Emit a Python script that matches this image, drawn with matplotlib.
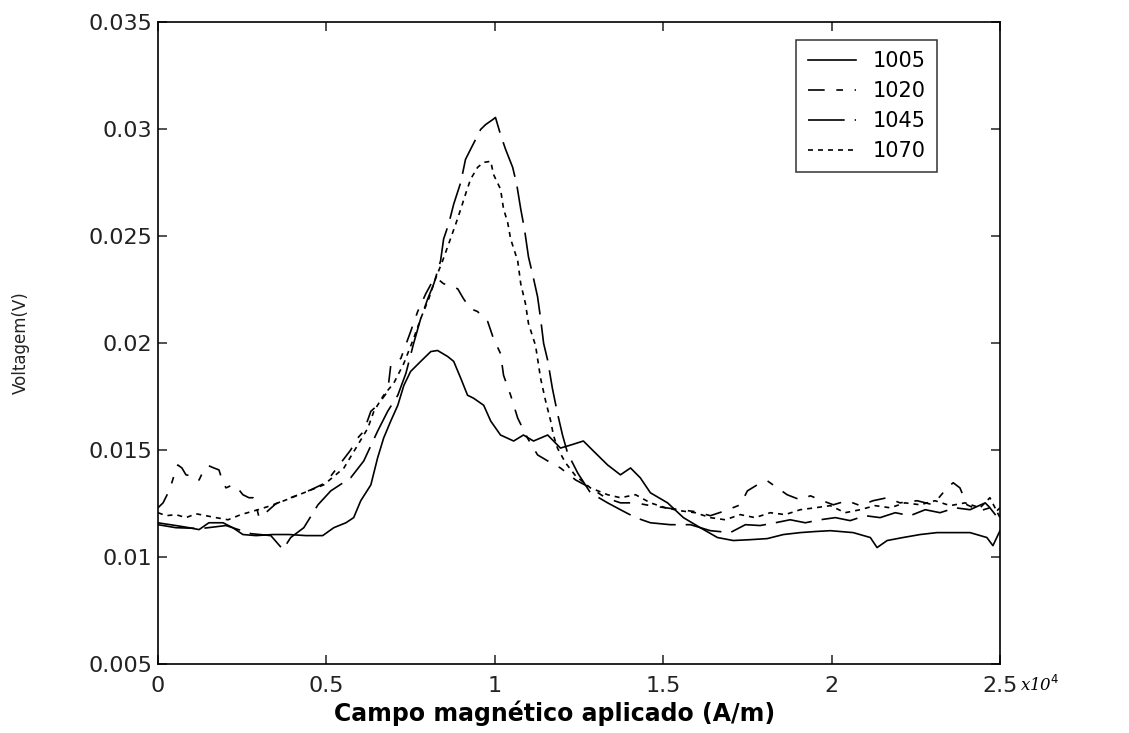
import matplotlib
matplotlib.use("Agg")
import matplotlib.pyplot as plt
from matplotlib.ticker import FuncFormatter

# field in units of 10^4 A/m, voltage in V
field_1005 = [0.000, 0.015, 0.053, 0.092, 0.122, 0.151, 0.193, 0.222, 0.252, 0.291,
              0.341, 0.389, 0.439, 0.489, 0.522, 0.558, 0.581, 0.602, 0.632, 0.652,
              0.670, 0.691, 0.712, 0.730, 0.750, 0.780, 0.810, 0.830, 0.860, 0.878,
              0.899, 0.919, 0.937, 0.967, 0.988, 1.017, 1.056, 1.085, 1.115, 1.157,
              1.195, 1.225, 1.263, 1.293, 1.335, 1.373, 1.403, 1.432, 1.462, 1.513,
              1.560, 1.610, 1.661, 1.708, 1.759, 1.809, 1.857, 1.907, 1.951, 1.996,
              2.064, 2.115, 2.135, 2.165, 2.212, 2.263, 2.313, 2.361, 2.411, 2.461,
              2.479, 2.500]
volt_1005 = [0.01160, 0.01156, 0.01147, 0.01137, 0.01128, 0.01160, 0.01160, 0.01137, 0.01105, 0.01100,
             0.01105, 0.01105, 0.01100, 0.01100, 0.01137, 0.01160, 0.01184, 0.01263, 0.01337, 0.01463,
             0.01556, 0.01635, 0.01709, 0.01802, 0.01867, 0.01914, 0.01960, 0.01965, 0.01937, 0.01914,
             0.01835, 0.01756, 0.01742, 0.01709, 0.01635, 0.01570, 0.01542, 0.01570, 0.01542, 0.01570,
             0.01509, 0.01523, 0.01542, 0.01495, 0.01430, 0.01384, 0.01416, 0.01370, 0.01300, 0.01253,
             0.01184, 0.01137, 0.01091, 0.01077, 0.01081, 0.01086, 0.01105, 0.01114, 0.01119, 0.01123,
             0.01114, 0.01091, 0.01044, 0.01077, 0.01091, 0.01105, 0.01114, 0.01114, 0.01114, 0.01091,
             0.01053, 0.01123]

field_1020 = [0.000, 0.015, 0.030, 0.039, 0.050, 0.059, 0.071, 0.083, 0.098, 0.110,
              0.122, 0.136, 0.151, 0.166, 0.181, 0.193, 0.202, 0.216, 0.231, 0.252,
              0.270, 0.282, 0.291, 0.300, 0.320, 0.350, 0.394, 0.454, 0.498, 0.543,
              0.572, 0.593, 0.611, 0.632, 0.652, 0.682, 0.691, 0.721, 0.750, 0.771,
              0.795, 0.816, 0.830, 0.848, 0.869, 0.890, 0.907, 0.928, 0.949, 0.967,
              0.979, 0.996, 1.017, 1.026, 1.047, 1.068, 1.097, 1.127, 1.157, 1.195,
              1.240, 1.284, 1.329, 1.373, 1.418, 1.462, 1.507, 1.551, 1.595, 1.640,
              1.684, 1.729, 1.750, 1.779, 1.809, 1.839, 1.868, 1.907, 1.937, 1.966,
              2.005, 2.046, 2.085, 2.123, 2.165, 2.203, 2.254, 2.301, 2.343, 2.361,
              2.381, 2.402, 2.441, 2.470, 2.500]
volt_1020 = [0.01230, 0.01253, 0.01300, 0.01337, 0.01393, 0.01430, 0.01416, 0.01384, 0.01379, 0.01360,
             0.01360, 0.01407, 0.01426, 0.01416, 0.01407, 0.01347, 0.01323, 0.01333, 0.01333, 0.01291,
             0.01277, 0.01277, 0.01244, 0.01184, 0.01207, 0.01249, 0.01277, 0.01314, 0.01347, 0.01440,
             0.01500, 0.01556, 0.01588, 0.01681, 0.01709, 0.01774, 0.01895, 0.01928, 0.02053, 0.02147,
             0.02230, 0.02291, 0.02300, 0.02277, 0.02267, 0.02253, 0.02207, 0.02160, 0.02147, 0.02114,
             0.02100, 0.02021, 0.01951, 0.01849, 0.01756, 0.01649, 0.01556, 0.01477, 0.01449, 0.01416,
             0.01360, 0.01323, 0.01277, 0.01253, 0.01253, 0.01240, 0.01230, 0.01221, 0.01212, 0.01193,
             0.01216, 0.01244, 0.01309, 0.01337, 0.01356, 0.01323, 0.01291, 0.01267, 0.01286, 0.01267,
             0.01244, 0.01263, 0.01240, 0.01263, 0.01277, 0.01253, 0.01263, 0.01244, 0.01323, 0.01347,
             0.01323, 0.01244, 0.01216, 0.01230, 0.01170]

field_1045 = [0.000, 0.053, 0.128, 0.202, 0.276, 0.335, 0.371, 0.394, 0.433, 0.475,
              0.513, 0.572, 0.611, 0.652, 0.682, 0.712, 0.736, 0.759, 0.780, 0.801,
              0.819, 0.839, 0.848, 0.863, 0.878, 0.899, 0.913, 0.928, 0.943, 0.958,
              0.973, 0.994, 1.002, 1.017, 1.032, 1.053, 1.065, 1.077, 1.088, 1.100,
              1.112, 1.127, 1.136, 1.145, 1.157, 1.171, 1.186, 1.201, 1.216, 1.246,
              1.284, 1.335, 1.373, 1.418, 1.462, 1.521, 1.581, 1.640, 1.699, 1.744,
              1.788, 1.833, 1.877, 1.922, 1.966, 2.011, 2.055, 2.100, 2.144, 2.189,
              2.233, 2.278, 2.322, 2.367, 2.411, 2.456, 2.485, 2.500]
volt_1045 = [0.01151, 0.01137, 0.01133, 0.01147, 0.01109, 0.01100, 0.01035, 0.01091, 0.01137, 0.01244,
             0.01309, 0.01370, 0.01449, 0.01588, 0.01681, 0.01756, 0.01858, 0.01998, 0.02114, 0.02207,
             0.02277, 0.02384, 0.02486, 0.02556, 0.02649, 0.02751, 0.02858, 0.02905, 0.02951, 0.02998,
             0.03021, 0.03044, 0.03054, 0.02974, 0.02905, 0.02821, 0.02742, 0.02626, 0.02533, 0.02402,
             0.02323, 0.02216, 0.02114, 0.01998, 0.01919, 0.01788, 0.01672, 0.01570, 0.01486, 0.01393,
             0.01300, 0.01253, 0.01221, 0.01184, 0.01160, 0.01151, 0.01151, 0.01123, 0.01114, 0.01151,
             0.01147, 0.01160, 0.01174, 0.01160, 0.01174, 0.01184, 0.01170, 0.01193, 0.01184, 0.01207,
             0.01193, 0.01221, 0.01207, 0.01230, 0.01221, 0.01253, 0.01207, 0.01230]

field_1070 = [0.000, 0.024, 0.053, 0.083, 0.113, 0.142, 0.172, 0.208, 0.246, 0.297,
              0.335, 0.374, 0.433, 0.492, 0.552, 0.593, 0.623, 0.641, 0.670, 0.700,
              0.730, 0.759, 0.780, 0.804, 0.824, 0.845, 0.863, 0.884, 0.899, 0.913,
              0.928, 0.949, 0.967, 0.988, 0.996, 1.017, 1.026, 1.038, 1.047, 1.068,
              1.077, 1.091, 1.100, 1.121, 1.136, 1.151, 1.166, 1.174, 1.186, 1.210,
              1.240, 1.284, 1.335, 1.373, 1.418, 1.462, 1.507, 1.551, 1.595, 1.640,
              1.684, 1.729, 1.773, 1.818, 1.862, 1.907, 1.951, 1.996, 2.040, 2.085,
              2.129, 2.174, 2.218, 2.263, 2.307, 2.352, 2.396, 2.441, 2.470, 2.500]
volt_1070 = [0.01207, 0.01193, 0.01198, 0.01184, 0.01202, 0.01193, 0.01184, 0.01174, 0.01198, 0.01221,
             0.01240, 0.01263, 0.01300, 0.01337, 0.01416, 0.01523, 0.01602, 0.01681, 0.01756, 0.01812,
             0.01905, 0.02021, 0.02114, 0.02207, 0.02300, 0.02384, 0.02463, 0.02556, 0.02626, 0.02695,
             0.02765, 0.02821, 0.02844, 0.02849, 0.02788, 0.02719, 0.02626, 0.02565, 0.02486, 0.02384,
             0.02277, 0.02184, 0.02091, 0.01988, 0.01835, 0.01728, 0.01635, 0.01570, 0.01509, 0.01440,
             0.01379, 0.01323, 0.01291, 0.01277, 0.01291, 0.01253, 0.01230, 0.01216, 0.01207, 0.01184,
             0.01174, 0.01198, 0.01184, 0.01207, 0.01198, 0.01221, 0.01230, 0.01240, 0.01207, 0.01221,
             0.01240, 0.01230, 0.01253, 0.01244, 0.01263, 0.01240, 0.01253, 0.01230, 0.01277, 0.01184]

x_ticks = [0, 0.5, 1, 1.5, 2, 2.5]
y_ticks = [0.005, 0.01, 0.015, 0.02, 0.025, 0.03, 0.035]

plt.rcParams['font.family'] = ['DejaVu Sans']

fig = plt.figure(figsize=(11.29, 7.33), dpi=100)
# axes box: left 158 px, right 1000 px, top 22 px, bottom 664 px
ax = fig.add_axes([158 / 1129, 1 - 664 / 733, 842 / 1129, 642 / 733])

lw = 1.2
ax.plot(field_1005, volt_1005, color='k', lw=lw, ls='-', label='1005')
ax.plot(field_1020, volt_1020, color='k', lw=lw, dashes=(10, 7, 4, 7), label='1020')
ax.plot(field_1045, volt_1045, color='k', lw=lw, dashes=(22, 6), label='1045')
ax.plot(field_1070, volt_1070, color='k', lw=lw, dashes=(3, 3), label='1070')

ax.set_xlim(0, 2.5)
ax.set_ylim(0.005, 0.035)
ax.set_xticks(x_ticks)
ax.set_yticks(y_ticks)
ax.xaxis.set_major_formatter(FuncFormatter(lambda v, p: f'{v:g}'))
ax.yaxis.set_major_formatter(FuncFormatter(lambda v, p: f'{v:g}'))
ax.tick_params(direction='in', length=6.5, width=1.1, top=True, right=True,
               labelsize=16, colors='#222222')
ax.tick_params(axis='x', pad=9)
ax.tick_params(axis='y', pad=4)
for s in ax.spines.values():
    s.set_linewidth(1.2)

ax.text(1.024, -0.033, 'x10$^4$', transform=ax.transAxes, fontsize=12,
        fontstyle='italic', family='DejaVu Serif', ha='left', va='center')

ax.set_xlabel('Campo magnético aplicado (A/m)', fontsize=17, fontweight='bold')
ax.xaxis.set_label_coords(0.4715, -0.0576)
ax.set_ylabel('Voltagem(V)', fontsize=12, color='#222222')
ax.yaxis.set_label_coords(-0.152, 0.5)

leg = ax.legend(loc='upper right', bbox_to_anchor=(0.925, 0.972), fontsize=15,
                frameon=True, fancybox=False, handlelength=2.3, borderpad=0.55,
                labelspacing=0.47, handletextpad=0.8, borderaxespad=0)
leg.get_frame().set_edgecolor('k')
leg.get_frame().set_linewidth(1.1)

fig.savefig('out.png', dpi=100)
